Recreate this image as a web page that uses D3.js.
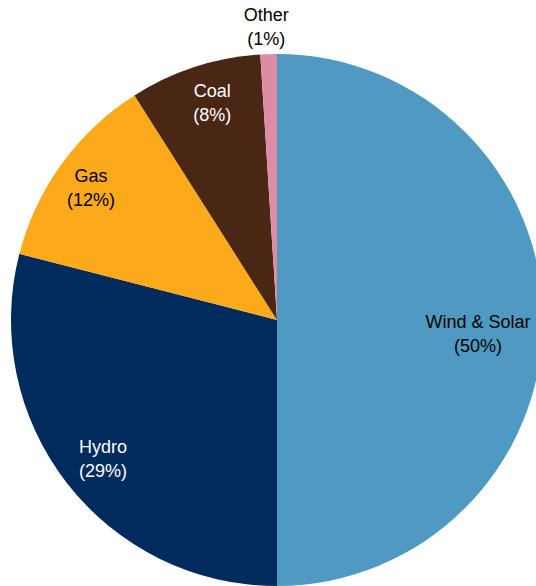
<!DOCTYPE html>
<html><head><meta charset="utf-8">
<script src="https://cdn.jsdelivr.net/npm/d3@7"></script>
<style>body{margin:0;background:#fff}svg{display:block}</style>
</head><body>
<svg id="c" width="536" height="586"></svg>
<script>
const categories = ["Wind & Solar", "Hydro", "Gas", "Coal", "Other"];
const shares = [50, 29, 12, 8, 1];
const colors = ["#4F9AC3", "#002B5C", "#FDAA1A", "#4A2614", "#DE8BA6"];
const labelColors = ["#000", "#fff", "#000", "#fff", "#000"];

const cx = 277, cy = 320, R = 266;
const svg = d3.select("#c");
const g = svg.append("g").attr("transform", `translate(${cx},${cy})`);
const data = categories.map((c, i) => ({cat: c, v: shares[i], i}));
const pie = d3.pie().value(d => d.v).sort(null);
const arcs = pie(data);
const arc = d3.arc().innerRadius(0).outerRadius(R);
g.selectAll("path").data(arcs).join("path")
  .attr("d", arc).attr("fill", d => colors[d.data.i]);

// label placement (radius factor, angle nudge in degrees)
const labelR = [0.757, 0.836, 0.859, 0.853, 1.104];
const labelNudge = [3.8, -0.7, -0.5, 1.4, -0.3];
const lab = g.selectAll("text").data(arcs).join("text")
  .attr("text-anchor", "middle")
  .attr("font-family", "Liberation Sans, Arial, sans-serif")
  .attr("font-size", 18)
  .attr("fill", d => labelColors[d.data.i])
  .attr("transform", d => {
    const a = (d.startAngle + d.endAngle) / 2 + labelNudge[d.data.i] * Math.PI / 180;
    const r = R * labelR[d.data.i];
    return `translate(${r * Math.sin(a)},${-r * Math.cos(a)})`;
  });
lab.append("tspan").attr("x", 0).attr("y", -5.3).text(d => d.data.cat);
lab.append("tspan").attr("x", 0).attr("y", 18.2).text(d => `(${d.data.v}%)`);
</script>
</body></html>
